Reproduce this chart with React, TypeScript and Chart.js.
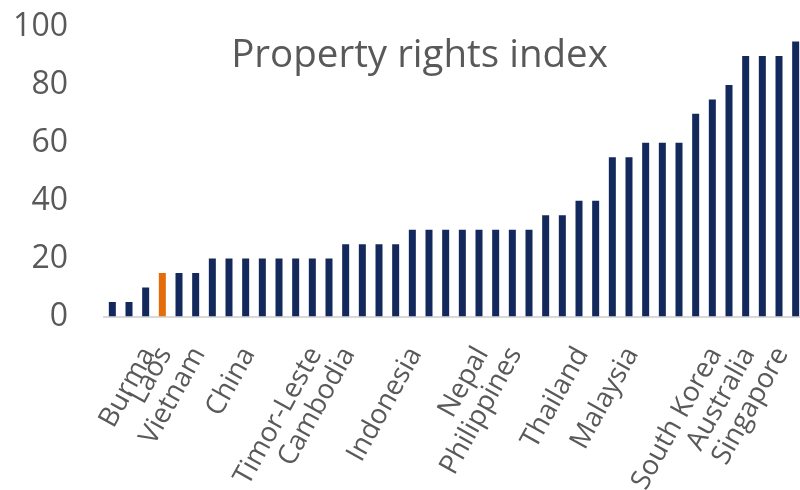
import React, { useEffect, useRef } from 'react';
import { Chart, registerables } from 'chart.js';

Chart.register(...registerables);

// ---- data ----
const categories: string[] = [
  '', '', 'Burma', 'Laos', '', 'Vietnam',
  '', '', 'China', '', '', '', 'Timor-Leste', '',
  'Cambodia', '', '', '',
  'Indonesia', '', '', '', 'Nepal', '', 'Philippines', '',
  '', '',
  'Thailand', '',
  '', 'Malaysia',
  '', '', '',
  '', 'South Korea', '',
  'Australia', '', 'Singapore', '',
];
const values: number[] = [
  5, 5, 10, 15, 15, 15,
  20, 20, 20, 20, 20, 20, 20, 20,
  25, 25, 25, 25,
  30, 30, 30, 30, 30, 30, 30, 30,
  35, 35,
  40, 40,
  55, 55,
  60, 60, 60,
  70, 75, 80,
  90, 90, 90, 95,
];
const yTicks: number[] = [0, 20, 40, 60, 80, 100];
const highlighted = 'Laos';
const chartTitle = 'Property rights index';

const NAVY = '#13285B';
const ORANGE = '#E46C0A';
const TEXT = '#595959';
const FONT = '"Open Sans", "Noto Sans", sans-serif';

const W = 804;
const H = 490;
const PLOT_TOP = 27;
const PLOT_BOTTOM = 316.5;
const PLOT_LEFT = 104;

const titlePlugin = {
  id: 'overlayTitle',
  afterDraw(chart: any) {
    const ctx = chart.ctx;
    ctx.save();
    ctx.font = `38.5px ${FONT}`;
    ctx.fillStyle = TEXT;
    ctx.textAlign = 'center';
    ctx.textBaseline = 'alphabetic';
    ctx.fillText(chartTitle, 419.5, 66.5);
    ctx.restore();
  },
};

export default function App() {
  const ref = useRef<HTMLCanvasElement | null>(null);

  useEffect(() => {
    let chart: Chart | null = null;
    let cancelled = false;
    const make = () => {
      if (cancelled || !ref.current) return;
      const colors = categories.map((c) => (c === highlighted ? ORANGE : NAVY));
      chart = new Chart(ref.current, {
        type: 'bar',
        data: {
          labels: categories,
          datasets: [
            {
              data: values,
              backgroundColor: colors,
              borderWidth: 0,
              barPercentage: 0.42,
              categoryPercentage: 1,
            },
          ],
        },
        plugins: [titlePlugin],
        options: {
          animation: false,
          responsive: false,
          maintainAspectRatio: false,
          layout: { padding: { top: PLOT_TOP, left: 0, right: 0, bottom: 0 } },
          plugins: {
            legend: { display: false },
            title: { display: false },
            tooltip: { enabled: false },
          },
          scales: {
            x: {
              grid: { display: true, drawOnChartArea: false, drawTicks: false },
              border: { display: true, color: '#D9D9D9', width: 2 },
              ticks: {
                autoSkip: false,
                minRotation: 61,
                maxRotation: 61,
                padding: 25,
                labelOffset: 3,
                color: TEXT,
                font: { family: FONT, size: 27.5 },
              },
              afterFit: (s: any) => {
                s.height = H - PLOT_BOTTOM;
                s.paddingLeft = 0;
                s.paddingRight = 0;
                s.paddingTop = 0;
                s.paddingBottom = 0;
              },
            },
            y: {
              min: 0,
              max: 100,
              grid: { display: false },
              border: { display: false },
              ticks: {
                padding: 28,
                color: TEXT,
                font: { family: FONT, size: 32 },
              },
              afterBuildTicks: (s: any) => {
                s.ticks = yTicks.map((v) => ({ value: v }));
              },
              afterFit: (s: any) => {
                s.width = PLOT_LEFT;
                s.paddingTop = 0;
                s.paddingBottom = 0;
                s.paddingLeft = 0;
                s.paddingRight = 0;
              },
            },
          },
        },
      });
    };
    const fonts: any = (document as any).fonts;
    if (fonts && fonts.load) {
      Promise.all([fonts.load(`32px "Open Sans"`), fonts.load(`38px "Open Sans"`)])
        .catch(() => null)
        .then(make);
    } else {
      make();
    }
    return () => {
      cancelled = true;
      if (chart) chart.destroy();
    };
  }, []);

  return (
    <div
      style={{
        position: 'fixed',
        left: 0,
        top: 0,
        width: 800,
        height: H,
        overflow: 'hidden',
        background: '#ffffff',
      }}
    >
      <canvas ref={ref} width={W} height={H} style={{ width: W, height: H, display: 'block' }} />
    </div>
  );
}
